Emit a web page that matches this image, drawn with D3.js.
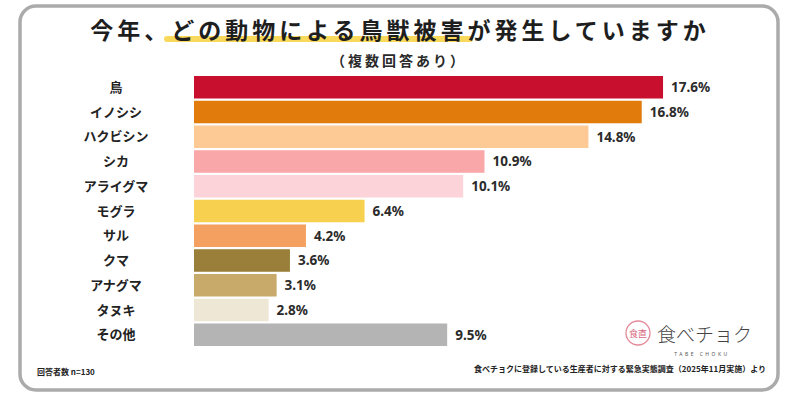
<!DOCTYPE html>
<html>
<head>
<meta charset="utf-8">
<script src="https://cdn.jsdelivr.net/npm/d3@7"></script>
<style>
  body { margin: 0; background: #fff; }
  svg { display: block; font-family: "Noto Sans CJK JP", "Noto Sans", sans-serif; }
</style>
</head>
<body>
<svg id="chart"></svg>
<script>
// Data
var animals = ["鳥", "イノシシ", "ハクビシン", "シカ", "アライグマ", "モグラ", "サル", "クマ", "アナグマ", "タヌキ", "その他"];
var shares = [17.6, 16.8, 14.8, 10.9, 10.1, 6.4, 4.2, 3.6, 3.1, 2.8, 9.5];
var barColors = ["#c8102e", "#e07b0c", "#fdc995", "#f9a7a8", "#fdd3da", "#f7d04f", "#f4a060", "#9a7f3b", "#c8aa6b", "#efe7d6", "#b4b4b4"];

var rows = animals.map((a, i) => ({ name: a, value: shares[i], color: barColors[i] }));

var width = 800;
var height = 398;

var svg = d3.select("#chart")
    .attr("width", width)
    .attr("height", height);

// Rounded frame
svg.append("rect")
    .attr("x", 20)
    .attr("y", 6)
    .attr("width", 758)
    .attr("height", 384)
    .attr("rx", 16)
    .attr("fill", "#fff")
    .attr("stroke", "#ababab")
    .attr("stroke-width", 3.5);

// Yellow marker under part of the title
svg.append("line")
    .attr("x1", 167)
    .attr("x2", 470)
    .attr("y1", 39)
    .attr("y2", 39)
    .attr("stroke", "#f9d95b")
    .attr("stroke-width", 6)
    .attr("stroke-linecap", "round");

// Title
svg.append("text")
    .attr("x", 400)
    .attr("y", 38.5)
    .attr("text-anchor", "middle")
    .style("font-size", "23px")
    .style("font-weight", "bold")
    .style("letter-spacing", "4px")
    .attr("fill", "#1e1e1e")
    .text("今年、どの動物による鳥獣被害が発生していますか");

svg.append("text")
    .attr("x", 399)
    .attr("y", 66)
    .attr("text-anchor", "middle")
    .style("font-size", "14px")
    .style("font-weight", "bold")
    .style("letter-spacing", "3px")
    .attr("fill", "#2a2a2a")
    .text("（複数回答あり）");

// Scales
var xScale = d3.scaleLinear()
    .domain([0, 20])
    .range([194, 727]);

var yScale = d3.scaleBand()
    .domain(animals)
    .range([76, 346])
    .paddingInner(0.09)
    .paddingOuter(0);

// Bars
svg.append("g")
  .selectAll("rect")
  .data(rows)
  .enter()
  .append("rect")
    .attr("x", xScale(0))
    .attr("y", d => yScale(d.name))
    .attr("width", d => xScale(d.value) - xScale(0))
    .attr("height", yScale.bandwidth())
    .attr("fill", d => d.color);

// Category labels
svg.append("g")
  .selectAll("text")
  .data(rows)
  .enter()
  .append("text")
    .attr("x", 116)
    .attr("y", d => yScale(d.name) + yScale.bandwidth() / 2)
    .attr("dy", "0.36em")
    .attr("text-anchor", "middle")
    .style("font-size", "13px")
    .style("font-weight", "bold")
    .attr("fill", "#222")
    .text(d => d.name);

// Value labels
svg.append("g")
  .selectAll("text")
  .data(rows)
  .enter()
  .append("text")
    .attr("x", d => xScale(d.value) + 8)
    .attr("y", d => yScale(d.name) + yScale.bandwidth() / 2)
    .attr("dy", "0.36em")
    .style("font-family", "'Noto Sans', sans-serif")
    .style("font-size", "13.5px")
    .style("font-weight", "bold")
    .attr("fill", "#2b2b2b")
    .text(d => d.value.toFixed(1) + "%");

// Footer notes
svg.append("text")
    .attr("x", 37)
    .attr("y", 375)
    .style("font-size", "8px")
    .style("font-weight", "bold")
    .attr("fill", "#222")
    .text("回答者数 n=130");

svg.append("text")
    .attr("x", 766)
    .attr("y", 372)
    .attr("text-anchor", "end")
    .style("font-size", "8px")
    .style("font-weight", "bold")
    .attr("fill", "#222")
    .text("食べチョクに登録している生産者に対する緊急実態調査（2025年11月実施）より");

// Logo
var logo = svg.append("g");
logo.append("circle")
    .attr("cx", 638)
    .attr("cy", 333)
    .attr("r", 12)
    .attr("fill", "none")
    .attr("stroke", "#e58a9a")
    .attr("stroke-width", 1.3);
logo.append("text")
    .attr("x", 638)
    .attr("y", 337)
    .attr("text-anchor", "middle")
    .style("font-size", "9px")
    .attr("fill", "#d9687e")
    .text("食直");
logo.append("text")
    .attr("x", 657)
    .attr("y", 342)
    .style("font-size", "19px")
    .style("font-weight", "300")
    .attr("fill", "#444")
    .text("食べチョク");
logo.append("text")
    .attr("x", 702)
    .attr("y", 356)
    .attr("text-anchor", "middle")
    .style("font-family", "'Noto Sans', sans-serif")
    .style("font-size", "5px")
    .style("letter-spacing", "2.5px")
    .attr("fill", "#555")
    .text("TABE CHOKU");
</script>
</body>
</html>
